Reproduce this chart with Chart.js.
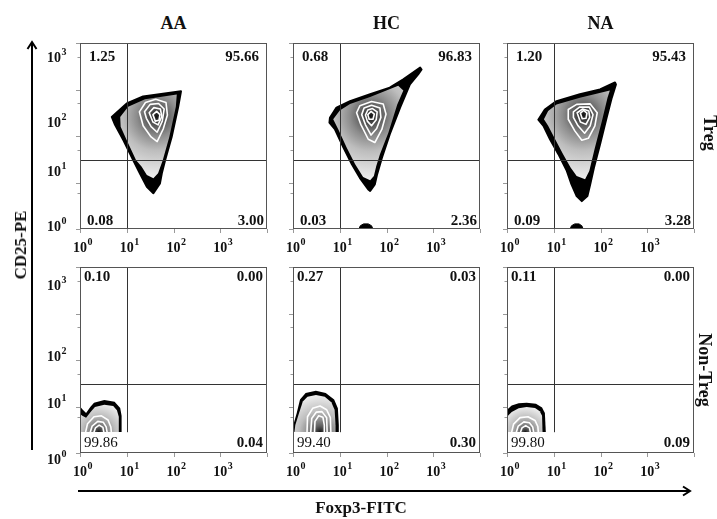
<!DOCTYPE html>
<html>
<head>
<meta charset="utf-8">
<script src="https://cdn.jsdelivr.net/npm/chart.js@4.4.1/dist/chart.umd.min.js"></script>
<style>
body { margin: 0; background: #fff; }
#fig { position: relative; width: 717px; height: 519px; overflow: hidden; font-family: "Liberation Serif", "Times New Roman", serif; font-weight: bold; color: #111; }
#fig canvas { position: absolute; }
#fig svg { position: absolute; left: 0; top: 0; }
.lbl { position: absolute; white-space: nowrap; transform: translate(-50%, -50%); }
</style>
</head>
<body>
<div id="fig">
  <svg width="717" height="519">
    <g stroke="#000" stroke-width="2" fill="none">
      <line x1="32" y1="450" x2="32" y2="42"/>
      <polyline points="27.5,49 32,42 36.5,49"/>
      <line x1="78" y1="491" x2="690" y2="491"/>
      <polyline points="683,486.5 690,491 683,495.5"/>
    </g>
  </svg>
</div>
<script>
// groups and rows
var groups = ['AA', 'HC', 'NA'];
var rowNames = ['Treg', 'Non-Treg'];
var decadeLabels = [0, 1, 2, 3];   // tick labels 10^n

// gates
var gateFoxp3 = 10;
var gateCD25 = 30;
var nonTregGateFloor = 2.8;

// quadrant percentages: upper-left, upper-right, lower-left, lower-right
var aaTregPct = [1.25, 95.66, 0.08, 3.00];
var hcTregPct = [0.68, 96.83, 0.03, 2.36];
var naTregPct = [1.20, 95.43, 0.09, 3.28];
var aaNonPct = [0.10, 0.00, 99.86, 0.04];
var hcNonPct = [0.27, 0.03, 99.40, 0.30];
var naNonPct = [0.11, 0.00, 99.80, 0.09];

// contour vertices, in log10 decades [Foxp3, CD25]
var aaTregOuter = [[0.68,2.41],[1.0,2.70],[1.35,2.85],[2.16,2.96],[2.10,2.63],[1.96,1.98],[1.82,1.48],[1.75,1.20],[1.71,0.98],[1.57,0.77],[1.43,0.91],[1.28,1.20],[1.14,1.48],[0.93,1.91],[0.75,2.24]];
var aaTregInner = [[0.86,2.41],[1.03,2.63],[1.39,2.79],[2.07,2.89],[2.05,2.63],[1.91,1.98],[1.77,1.48],[1.67,1.20],[1.57,1.09],[1.43,1.16],[1.32,1.34],[1.20,1.48],[1.0,1.91],[0.87,2.20]];
var aaTregRings = [
  [[1.27,2.52],[1.40,2.72],[1.62,2.79],[1.84,2.72],[1.87,2.45],[1.78,2.15],[1.65,1.88],[1.52,1.98],[1.35,2.22]],
  [[1.38,2.52],[1.50,2.68],[1.68,2.70],[1.80,2.58],[1.76,2.32],[1.65,2.08],[1.52,2.20],[1.42,2.38]],
  [[1.48,2.50],[1.58,2.61],[1.72,2.58],[1.75,2.42],[1.67,2.24],[1.56,2.30]],
  [[1.56,2.46],[1.64,2.53],[1.71,2.46],[1.69,2.34],[1.61,2.32]]
];
var aaTregPeak = [1.64, 2.42];

var hcTregOuter = [[2.72,3.47],[2.36,3.22],[2.07,3.04],[1.65,2.90],[1.22,2.75],[0.93,2.61],[0.79,2.39],[0.78,2.29],[0.90,2.14],[1.08,1.75],[1.26,1.39],[1.43,1.10],[1.61,0.85],[1.65,0.82],[1.75,0.96],[1.80,1.18],[1.90,1.53],[2.07,2.04],[2.29,2.61],[2.50,3.11],[2.68,3.33],[2.75,3.43]];
var hcTregInner = [[2.25,3.08],[1.65,2.84],[1.22,2.69],[1.0,2.55],[0.86,2.36],[0.97,2.14],[1.15,1.75],[1.33,1.39],[1.50,1.12],[1.65,1.05],[1.73,1.14],[1.78,1.35],[1.86,1.61],[2.04,2.07],[2.23,2.68],[2.36,2.98]];
var hcTregRings = [
  [[1.36,2.50],[1.43,2.65],[1.68,2.74],[1.93,2.69],[1.99,2.47],[1.90,2.14],[1.75,1.86],[1.61,1.93],[1.45,2.25]],
  [[1.47,2.46],[1.52,2.60],[1.68,2.66],[1.86,2.60],[1.88,2.40],[1.79,2.16],[1.67,2.02],[1.55,2.24]],
  [[1.55,2.45],[1.60,2.56],[1.70,2.59],[1.80,2.52],[1.78,2.35],[1.68,2.22],[1.59,2.32]],
  [[1.60,2.46],[1.67,2.53],[1.74,2.47],[1.71,2.36],[1.63,2.36]]
];
var hcTregPeak = [1.66, 2.43];
var hcTregDot = [[1.41,0],[1.44,0.07],[1.51,0.11],[1.61,0.11],[1.68,0.07],[1.71,0]];

var naTregOuter = [[2.31,3.15],[1.99,3.00],[1.56,2.90],[1.06,2.75],[0.81,2.57],[0.67,2.35],[0.78,2.22],[0.92,1.93],[1.10,1.61],[1.28,1.25],[1.38,0.96],[1.49,0.71],[1.60,0.60],[1.72,0.71],[1.78,0.96],[1.86,1.32],[1.99,1.82],[2.13,2.39],[2.24,2.82],[2.33,3.11]];
var naTregInner = [[2.20,2.98],[1.56,2.82],[1.06,2.68],[0.88,2.54],[0.79,2.36],[0.88,2.22],[1.03,1.93],[1.20,1.61],[1.36,1.32],[1.49,1.14],[1.67,1.07],[1.76,1.25],[1.88,1.75],[2.03,2.32],[2.15,2.82]];
var naTregRings = [
  [[1.31,2.57],[1.49,2.68],[1.78,2.69],[1.93,2.50],[1.88,2.22],[1.74,1.95],[1.60,1.91],[1.45,2.11],[1.31,2.36]],
  [[1.42,2.52],[1.55,2.62],[1.76,2.62],[1.84,2.46],[1.78,2.22],[1.66,2.06],[1.52,2.22],[1.42,2.40]],
  [[1.50,2.50],[1.62,2.58],[1.75,2.54],[1.77,2.40],[1.69,2.25],[1.57,2.30]],
  [[1.57,2.49],[1.64,2.55],[1.71,2.49],[1.69,2.38],[1.61,2.37]]
];
var naTregPeak = [1.63, 2.45];
var naTregDot = [[1.35,0],[1.38,0.07],[1.45,0.11],[1.54,0.11],[1.60,0.07],[1.63,0]];

var aaNonOuter = [[0,0.45],[0,1.00],[0.06,0.93],[0.13,0.86],[0.22,0.99],[0.30,1.08],[0.52,1.14],[0.74,1.10],[0.86,0.97],[0.89,0.80],[0.89,0.45]];
var aaNonInner = [[0,0.45],[0,0.84],[0.05,0.80],[0.13,0.76],[0.24,0.90],[0.32,0.99],[0.52,1.04],[0.71,1.01],[0.79,0.92],[0.83,0.78],[0.83,0.45]];
var aaNonRings = [
  [[0.12,0.45],[0.16,0.63],[0.30,0.78],[0.46,0.80],[0.60,0.71],[0.66,0.56],[0.67,0.45]],
  [[0.22,0.45],[0.26,0.58],[0.38,0.68],[0.50,0.66],[0.56,0.56],[0.58,0.45]],
  [[0.30,0.45],[0.33,0.54],[0.41,0.60],[0.49,0.55],[0.51,0.45]]
];
var aaNonPeak = [0.40, 0.45];

var hcNonOuter = [[0,0.45],[0,0.58],[0.08,0.86],[0.15,1.15],[0.27,1.29],[0.49,1.34],[0.70,1.29],[0.88,1.15],[0.96,0.96],[0.98,0.60],[0.98,0.45]];
var hcNonInner = [[0.03,0.45],[0.05,0.60],[0.13,0.86],[0.21,1.11],[0.31,1.21],[0.49,1.25],[0.68,1.21],[0.82,1.09],[0.89,0.93],[0.91,0.60],[0.91,0.45]];
var hcNonRings = [
  [[0.30,0.45],[0.31,0.78],[0.42,0.96],[0.58,1.01],[0.72,0.93],[0.80,0.76],[0.81,0.45]],
  [[0.38,0.45],[0.40,0.74],[0.50,0.88],[0.62,0.89],[0.72,0.76],[0.73,0.45]],
  [[0.46,0.45],[0.47,0.68],[0.55,0.80],[0.64,0.77],[0.67,0.60],[0.67,0.45]]
];
var hcNonPeak = [0.58, 0.45];

var naNonOuter = [[0,0.45],[0,0.93],[0.10,1.02],[0.25,1.07],[0.42,1.08],[0.62,1.06],[0.75,0.98],[0.81,0.86],[0.83,0.45]];
var naNonInner = [[0.02,0.45],[0,0.78],[0.10,0.88],[0.25,0.96],[0.42,0.99],[0.60,0.97],[0.70,0.90],[0.75,0.80],[0.76,0.45]];
var naNonRings = [
  [[0.10,0.45],[0.14,0.62],[0.28,0.76],[0.45,0.78],[0.60,0.70],[0.66,0.57],[0.67,0.45]],
  [[0.20,0.45],[0.24,0.58],[0.36,0.67],[0.48,0.65],[0.55,0.56],[0.57,0.45]],
  [[0.29,0.45],[0.32,0.54],[0.40,0.59],[0.48,0.54],[0.50,0.45]]
];
var naNonPeak = [0.39, 0.45];

// layout
var colLeft = [80, 293, 507];
var rowTop = [43, 267];
var boxW = 187, boxH = 186;
var pad = {left: 50, top: 8, right: 8, bottom: 32};
var serif = '"Liberation Serif", "Times New Roman", serif';
var pctPlace = [
  {ul: [9, 14], ur: [8, 14], ll: [7, 8], lr: [3, 8], llBold: true},
  {ul: [4, 10], ur: [4, 10], ll: [4, 10], lr: [4, 10], llBold: false}
];
var yLabelNudge = [[-2, -10, -13, -31], [7, -2, -3, -27]];

var fig = document.getElementById('fig');

function toPts(list) {
    return list.map(function (p) { return {x: Math.pow(10, p[0]), y: Math.pow(10, p[1])}; });
}

function shade(peak) {
    return function (chart, pts) {
        var cx = chart.scales.x.getPixelForValue(Math.pow(10, peak[0]));
        var cy = chart.scales.y.getPixelForValue(Math.pow(10, peak[1]));
        var r = 1;
        pts.forEach(function (p) { r = Math.max(r, Math.hypot(p.x - cx, p.y - cy)); });
        var g = chart.ctx.createRadialGradient(cx, cy, 0, cx, cy, r);
        g.addColorStop(0, '#111');
        g.addColorStop(0.06, '#333');
        g.addColorStop(0.16, '#5e5e5e');
        g.addColorStop(0.32, '#8c8c8c');
        g.addColorStop(0.55, '#bdbdbd');
        g.addColorStop(1, '#f0f0f0');
        return g;
    };
}

function drawPow(ctx, x, y, exp, centred) {
    ctx.font = 'bold 14px ' + serif;
    var w = ctx.measureText('10').width;
    var x0 = centred ? x - w / 2 : x;
    ctx.textAlign = 'left';
    ctx.textBaseline = 'middle';
    ctx.fillText('10', x0, y);
    ctx.font = 'bold 10px ' + serif;
    ctx.fillText(String(exp), x0 + w + 0.5, y - 6);
}

var flowPlugin = {
    id: 'flow',
    beforeDatasetsDraw: function (chart) {
        var ctx = chart.ctx, a = chart.chartArea;
        ctx.save();
        ctx.beginPath();
        ctx.rect(a.left, a.top, a.right - a.left, a.bottom - a.top);
        ctx.clip();
        chart.data.datasets.forEach(function (ds, i) {
            var c = ds.contour;
            if (!c) return;
            var pts = chart.getDatasetMeta(i).data;
            ctx.beginPath();
            pts.forEach(function (p, j) { if (j) ctx.lineTo(p.x, p.y); else ctx.moveTo(p.x, p.y); });
            if (c.closed) ctx.closePath();
            ctx.lineJoin = 'round';
            ctx.lineCap = 'round';
            if (c.fill) {
                ctx.fillStyle = typeof c.fill === 'function' ? c.fill(chart, pts) : c.fill;
                ctx.fill();
            }
            if (c.stroke) {
                ctx.lineWidth = c.width;
                ctx.strokeStyle = c.stroke;
                ctx.stroke();
            }
        });
        ctx.restore();
    },
    afterDraw: function (chart, args, opts) {
        var ctx = chart.ctx, a = chart.chartArea;
        var xs = chart.scales.x, ys = chart.scales.y;
        ctx.save();
        // gates
        ctx.strokeStyle = '#333';
        ctx.lineWidth = 1;
        var gx = Math.round(xs.getPixelForValue(gateFoxp3)) + 0.5;
        var gy = Math.round(ys.getPixelForValue(gateCD25)) + 0.5;
        ctx.beginPath();
        ctx.moveTo(gx, a.top);
        ctx.lineTo(gx, ys.getPixelForValue(opts.gateFloor));
        ctx.moveTo(a.left, gy);
        ctx.lineTo(a.right, gy);
        ctx.stroke();
        // minor ticks
        ctx.strokeStyle = '#999';
        ctx.beginPath();
        xs.ticks.forEach(function (t) {
            var px = Math.round(xs.getPixelForValue(t.value)) + 0.5;
            ctx.moveTo(px, a.bottom);
            ctx.lineTo(px, a.bottom + (t.major ? 4 : 2.5));
        });
        ys.ticks.forEach(function (t) {
            var py = Math.round(ys.getPixelForValue(t.value)) + 0.5;
            ctx.moveTo(a.left, py);
            ctx.lineTo(a.left - (t.major ? 4 : 2.5), py);
        });
        ctx.stroke();
        // frame
        ctx.strokeStyle = '#555';
        ctx.strokeRect(a.left + 0.5, a.top + 0.5, a.right - a.left - 1, a.bottom - a.top - 1);
        // tick labels
        ctx.fillStyle = '#111';
        decadeLabels.forEach(function (e, k) {
            drawPow(ctx, xs.getPixelForValue(Math.pow(10, e)), a.bottom + 19, e, true);
            if (opts.yLabels) {
                drawPow(ctx, a.left - 33, ys.getPixelForValue(Math.pow(10, e)) + opts.yNudge[k], e, false);
            }
        });
        // quadrant percentages
        var pl = opts.place, v = opts.pct;
        ctx.textBaseline = 'middle';
        var spots = [
            [a.left + pl.ul[0], a.top + pl.ul[1], 'left', true],
            [a.right - pl.ur[0], a.top + pl.ur[1], 'right', true],
            [a.left + pl.ll[0], a.bottom - pl.ll[1], 'left', pl.llBold],
            [a.right - pl.lr[0], a.bottom - pl.lr[1], 'right', true]
        ];
        spots.forEach(function (s, k) {
            ctx.font = (s[3] ? 'bold ' : '') + '15px ' + serif;
            ctx.textAlign = s[2];
            ctx.fillText(v[k].toFixed(2), s[0], s[1]);
        });
        ctx.restore();
    }
};

function makePanel(row, col, outer, inner, rings, peak, pct, dot) {
    var canvas = document.createElement('canvas');
    canvas.width = boxW + pad.left + pad.right;
    canvas.height = boxH + pad.top + pad.bottom;
    canvas.style.left = (colLeft[col] - pad.left) + 'px';
    canvas.style.top = (rowTop[row] - pad.top) + 'px';
    fig.appendChild(canvas);

    var datasets = [];
    datasets.push({data: toPts(outer), contour: {fill: '#000', stroke: row === 0 ? '#000' : null, width: 2, closed: true}});
    datasets.push({data: toPts(inner), contour: {fill: shade(peak), closed: true}});
    rings.forEach(function (r) {
        datasets.push({data: toPts(r), contour: {stroke: '#fff', width: 1.6, closed: row === 0}});
    });
    if (dot) {
        datasets.push({data: toPts(dot), contour: {fill: '#000', stroke: '#000', width: 1, closed: true}});
    }

    new Chart(canvas, {
        type: 'scatter',
        data: {datasets: datasets},
        options: {
            responsive: false,
            animation: false,
            events: [],
            layout: {padding: pad},
            elements: {point: {radius: 0}},
            scales: {
                x: {type: 'logarithmic', min: 1, max: 10000, display: false},
                y: {type: 'logarithmic', min: 1, max: 10000, display: false}
            },
            plugins: {
                legend: {display: false},
                tooltip: {enabled: false},
                flow: {
                    pct: pct,
                    place: pctPlace[row],
                    gateFloor: row === 0 ? 1 : nonTregGateFloor,
                    yLabels: col === 0,
                    yNudge: yLabelNudge[row]
                }
            }
        },
        plugins: [flowPlugin]
    });
}

makePanel(0, 0, aaTregOuter, aaTregInner, aaTregRings, aaTregPeak, aaTregPct, null);
makePanel(0, 1, hcTregOuter, hcTregInner, hcTregRings, hcTregPeak, hcTregPct, hcTregDot);
makePanel(0, 2, naTregOuter, naTregInner, naTregRings, naTregPeak, naTregPct, naTregDot);
makePanel(1, 0, aaNonOuter, aaNonInner, aaNonRings, aaNonPeak, aaNonPct, null);
makePanel(1, 1, hcNonOuter, hcNonInner, hcNonRings, hcNonPeak, hcNonPct, null);
makePanel(1, 2, naNonOuter, naNonInner, naNonRings, naNonPeak, naNonPct, null);

// titles and axis names
function addLabel(text, x, y, size, rot) {
    var d = document.createElement('div');
    d.className = 'lbl';
    d.textContent = text;
    d.style.left = x + 'px';
    d.style.top = y + 'px';
    d.style.fontSize = size + 'px';
    if (rot) d.style.transform = 'translate(-50%, -50%) rotate(' + rot + 'deg)';
    fig.appendChild(d);
}
groups.forEach(function (g, i) { addLabel(g, colLeft[i] + boxW / 2, 23, 18); });
addLabel(rowNames[0], 709, 133, 18, 90);
addLabel(rowNames[1], 704, 370, 18, 90);
addLabel('CD25-PE', 21, 245, 17, -90);
addLabel('Foxp3-FITC', 361, 508, 17);
</script>
</body>
</html>
